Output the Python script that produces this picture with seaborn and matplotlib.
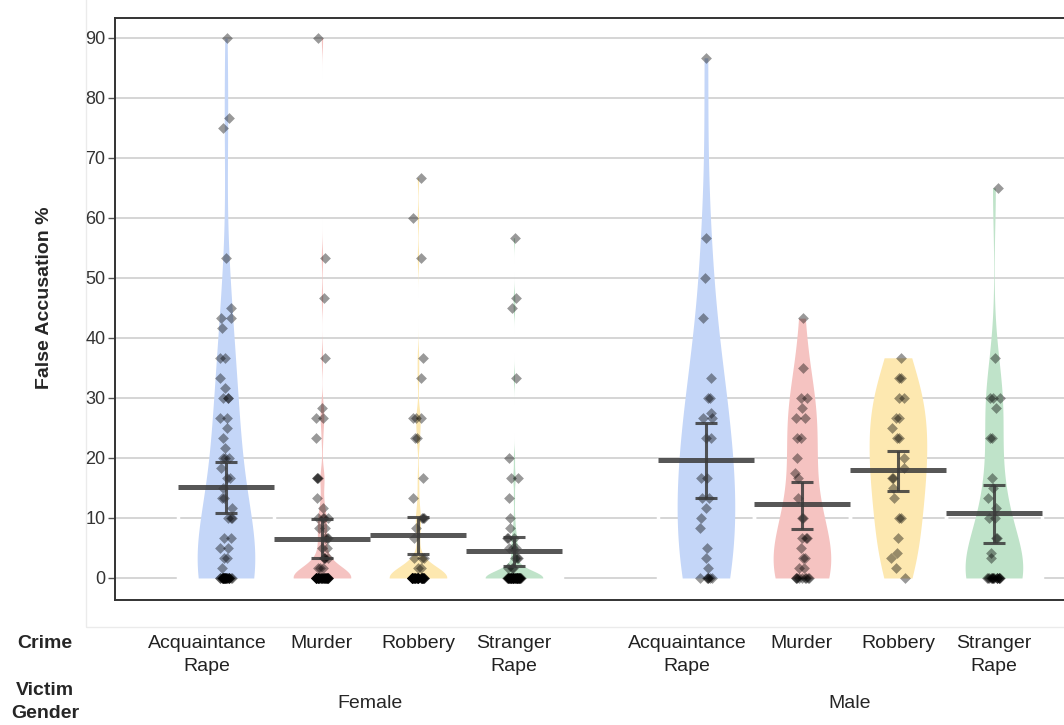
import matplotlib
matplotlib.use("Agg")
import matplotlib.pyplot as plt
import matplotlib.transforms as mtransforms
from matplotlib.patches import Rectangle
import seaborn as sns
import pandas as pd
import numpy as np

# Dados (False Accusation %, por grupo)
crimes = ["Acquaintance Rape", "Murder", "Robbery", "Stranger Rape"]
crime_labels = ["Acquaintance\nRape", "Murder", "Robbery", "Stranger\nRape"]
genders = ["Female", "Male"]

female_acq = [90, 76.7, 75, 53.3, 45, 43.3, 43.3, 41.7, 36.7, 36.7, 33.3, 31.7, 30, 30, 30,
              26.7, 26.7, 25, 23.3, 21.7, 20, 20, 20, 18.3, 16.7, 16.7, 15, 13.3, 13.3, 11.7,
              10, 10, 10, 6.7, 6.7, 5, 5, 3.3, 3.3, 1.7] + [0] * 29
female_murder = [90, 53.3, 46.7, 36.7, 28.3, 26.7, 26.7, 23.3, 16.7, 16.7, 16.7, 13.3, 11.7,
                 10, 10, 10, 10, 8.3, 8.3, 6.7, 6.7, 6.7, 5, 5, 3.3, 3.3, 3.3, 3.3,
                 1.7, 1.7, 1.7] + [0] * 42
female_robbery = [66.7, 60, 53.3, 36.7, 33.3, 26.7, 26.7, 26.7, 23.3, 23.3, 16.7, 13.3,
                  10, 10, 10, 8.3, 6.7, 3.3, 3.3, 3.3, 1.7, 1.7] + [0] * 43
female_stranger = [56.7, 46.7, 45, 33.3, 20, 16.7, 16.7, 13.3, 10, 8.3, 6.7, 6.7, 6.7,
                   5, 5, 5, 3.3, 3.3, 3.3, 1.7, 1.7, 1.7] + [0] * 48
male_acq = [86.7, 56.7, 50, 43.3, 33.3, 30, 30, 27.5, 26.7, 26.7, 23.3, 23.3, 16.7, 16.7,
            13.3, 13.3, 11.7, 10, 8.3, 5, 3.3, 1.7] + [0] * 6
male_murder = [43.3, 35, 30, 30, 28.3, 26.7, 26.7, 23.3, 23.3, 20, 17.5, 16.7, 13.3,
               10, 10, 6.7, 6.7, 6.7, 5, 3.3, 3.3, 1.7, 1.7] + [0] * 9
male_robbery = [36.7, 33.3, 33.3, 30, 30, 26.7, 26.7, 25, 23.3, 23.3, 20, 18.3, 16.7, 16.7,
                15, 13.3, 10, 10, 6.7, 4.2, 3.3, 1.7, 0]
male_stranger = [65, 36.7, 30, 30, 30, 28.3, 23.3, 23.3, 16.7, 15, 13.3, 11.7, 10, 10,
                 6.7, 6.7, 4.2, 3.3] + [0] * 16

# Média e intervalo, na ordem Female x4, Male x4
means = [15.2, 6.5, 7.2, 4.5, 19.7, 12.3, 18.0, 10.8]
ci_low = [10.8, 3.4, 4.0, 2.0, 13.3, 8.1, 14.5, 5.9]
ci_high = [19.3, 9.8, 10.2, 6.8, 25.8, 16.0, 21.2, 15.5]

crime_colors = ["#c4d6f8", "#f5c3c1", "#fde8b0", "#bfe3c9"]
# largura de banda dos violinos (em unidades de %), ajustada a olho
bandwidths = [10, 1.8, 1.8, 1.2, 13, 7, 6.5, 6.5]

# --- Montagem do DataFrame ---
groups = [female_acq, female_murder, female_robbery, female_stranger,
          male_acq, male_murder, male_robbery, male_stranger]
slots = [f"{g}|{c}" for g in genders for c in crimes]
order = slots[:4] + ["gap"] + slots[4:]

df = pd.concat([pd.DataFrame({"slot": s, "value": v}) for s, v in zip(slots, groups)],
               ignore_index=True)
means_df = pd.DataFrame({"slot": slots, "mean": means})

sns.set_style("white")
plt.rcParams["font.family"] = ["Liberation Sans", "DejaVu Sans"]

fig = plt.figure(figsize=(10.64, 7.25), dpi=100)
fig.patches.append(Rectangle((86 / 1064, 1 - 627 / 725), 2, 2, transform=fig.transFigure,
                             fill=False, edgecolor="#ebebeb", linewidth=1, zorder=-5))
ax = fig.add_axes([115 / 1064, 1 - 600 / 725, 1 - 115 / 1064, 582 / 725])

ax.yaxis.grid(True, color="#d2d2d2", linewidth=1.3)
ax.set_axisbelow(True)

# barras invisíveis com borda branca (cortam a grade como no original)
sns.barplot(data=means_df, x="slot", y="mean", order=order, width=1, errorbar=None,
            facecolor="none", edgecolor="white", linewidth=2.5, ax=ax)

# violinos, um por grupo
for i, (s, v) in enumerate(zip(slots, groups)):
    arr = np.array(v, dtype=float)
    scott = arr.std(ddof=1) * len(arr) ** -0.2
    sns.violinplot(data=df[df["slot"] == s], x="slot", y="value", order=order,
                   color=crime_colors[i % 4], saturation=1, cut=0, inner=None,
                   linewidth=0, width=0.6, density_norm="width", gridsize=600,
                   bw_adjust=bandwidths[i] / scott, ax=ax)

np.random.seed(3)
sns.stripplot(data=df, x="slot", y="value", order=order, color="black", alpha=0.4,
              marker="D", size=5.5, jitter=0.07, linewidth=0, zorder=3, ax=ax)

pos = np.array([order.index(s) for s in slots])
m = np.array(means)
ax.hlines(m, pos - 0.5, pos + 0.5, colors="#3a3a3a", linewidth=3.6, alpha=0.85, zorder=4)
ax.errorbar(pos, m, yerr=[m - np.array(ci_low), np.array(ci_high) - m], fmt="none",
            ecolor="#3a3a3a", elinewidth=2.2, capsize=8, capthick=2.2, alpha=0.85, zorder=4)

ax.set_xlim(-1.156, 8.73)
ax.set_ylim(-3.67, 93.33)
ax.set_yticks(range(0, 91, 10))
ax.set_xticks(pos, [""] * len(pos))
ax.set_xlabel("")
ax.set_ylabel("")
ax.tick_params(axis="x", length=9, width=1, color="#555555")
ax.tick_params(axis="y", length=5, width=1, color="#555555", labelsize=13,
               labelcolor="#333333", left=True, pad=2)

for side in ["left", "bottom", "top"]:
    ax.spines[side].set_color("#333333")
    ax.spines[side].set_linewidth(1.4)
ax.spines["right"].set_visible(False)

# Rótulos das categorias (os de "Acquaintance" ficam um pouco à esquerda, como no original)
trans = mtransforms.blended_transform_factory(ax.transData, fig.transFigure)
for p, lab in zip(pos, crime_labels * 2):
    t = trans
    if lab.startswith("Acquaintance"):
        t = trans + mtransforms.ScaledTranslation(-0.19, 0, fig.dpi_scale_trans)
    y = 1 - (655 if "\n" in lab else 643) / 725
    ax.text(p, y, lab, transform=t, ha="center", va="center", fontsize=14,
            color="#222222", linespacing=1.5)

ax.text(1.5, 1 - 703 / 725, "Female", transform=trans, ha="center", va="center", fontsize=14)
ax.text(6.5, 1 - 703 / 725, "Male", transform=trans, ha="center", va="center", fontsize=14)
fig.text(45 / 1064, 1 - 643 / 725, "Crime", ha="center", va="center",
         fontsize=14, fontweight="bold")
fig.text(45 / 1064, 1 - 702 / 725, "Victim\nGender", ha="center", va="center",
         fontsize=14, fontweight="bold", linespacing=1.45)
fig.text(45 / 1064, 1 - 298 / 725, "False Accusation %", rotation=90, ha="center",
         va="center", fontsize=14, fontweight="bold")

fig.savefig("out.png", dpi=100)
plt.close()
